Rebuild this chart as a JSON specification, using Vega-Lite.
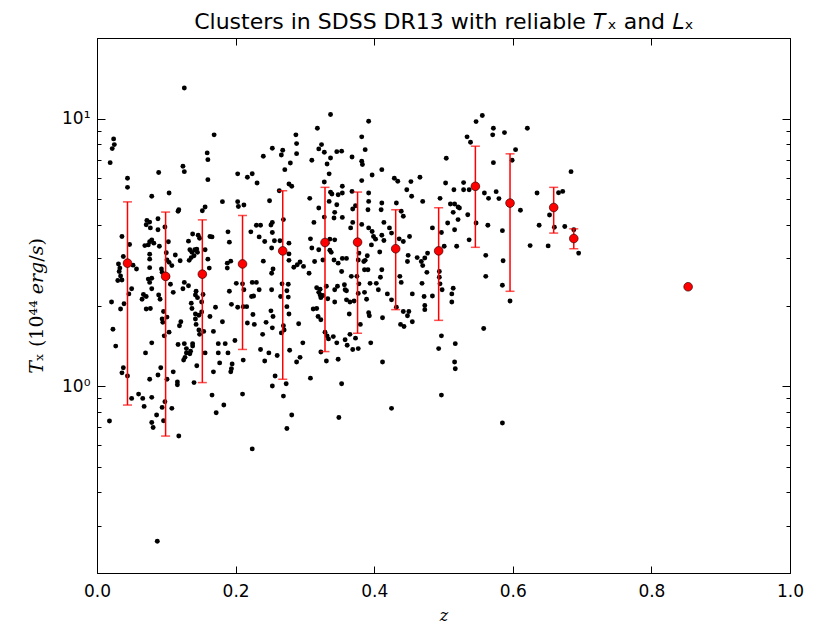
{
"$schema": "https://vega.github.io/schema/vega-lite/v6.json",
"width": 693, "height": 535,
"autosize": {"type": "none"},
"padding": {"left": 97, "top": 38, "right": 32, "bottom": 51},
"background": "white",
"config": {"view": {"stroke": "black", "strokeWidth": 1}},
"datasets": {
"bins": [
{"z":0.044,"T":2.88,"lo":0.849,"hi":4.88},{"z":0.099,"T":2.57,"lo":0.650,"hi":4.47},{"z":0.152,"T":2.62,"lo":1.03,"hi":4.18},{"z":0.210,"T":2.86,"lo":1.37,"hi":4.34},{"z":0.268,"T":3.20,"lo":1.06,"hi":5.37},{"z":0.329,"T":3.44,"lo":1.345,"hi":5.53},{"z":0.376,"T":3.45,"lo":1.575,"hi":5.31},{"z":0.431,"T":3.26,"lo":1.93,"hi":4.56},{"z":0.493,"T":3.20,"lo":1.76,"hi":4.64},{"z":0.546,"T":5.58,"lo":3.30,"hi":7.88},{"z":0.596,"T":4.83,"lo":2.26,"hi":7.38},{"z":0.659,"T":4.65,"lo":3.73,"hi":5.53},{"z":0.688,"T":3.56,"lo":3.26,"hi":3.87},{"z":0.853,"T":2.35,"lo":null,"hi":null}
],
"clusters": [
{"z":0.126,"T":13.0},{"z":0.337,"T":10.35},{"z":0.318,"T":9.20},{"z":0.169,"T":8.69},{"z":0.287,"T":8.69},{"z":0.024,"T":8.39},{"z":0.025,"T":7.99},{"z":0.022,"T":7.72},{"z":0.324,"T":7.99},{"z":0.320,"T":7.70},{"z":0.328,"T":7.48},{"z":0.288,"T":8.06},{"z":0.253,"T":7.74},{"z":0.268,"T":7.61},{"z":0.346,"T":7.52},{"z":0.240,"T":7.23},{"z":0.266,"T":7.31},{"z":0.337,"T":7.12},{"z":0.288,"T":7.39},{"z":0.019,"T":6.84},{"z":0.159,"T":7.44},{"z":0.160,"T":7.02},{"z":0.279,"T":6.82},{"z":0.310,"T":6.98},{"z":0.332,"T":6.76},{"z":0.124,"T":6.63},{"z":0.126,"T":6.33},{"z":0.089,"T":6.28},{"z":0.203,"T":6.21},{"z":0.224,"T":6.22},{"z":0.217,"T":6.03},{"z":0.044,"T":5.98},{"z":0.160,"T":5.91},{"z":0.271,"T":6.44},{"z":0.335,"T":6.21},{"z":0.231,"T":5.74},{"z":0.328,"T":5.79},{"z":0.277,"T":5.69},{"z":0.281,"T":5.58},{"z":0.044,"T":5.53},{"z":0.104,"T":5.27},{"z":0.079,"T":5.12},{"z":0.337,"T":5.30},{"z":0.339,"T":5.22},{"z":0.348,"T":5.19},{"z":0.263,"T":5.37},{"z":0.307,"T":5.03},{"z":0.181,"T":4.89},{"z":0.203,"T":4.89},{"z":0.212,"T":4.75},{"z":0.249,"T":4.93},{"z":0.204,"T":4.69},{"z":0.156,"T":4.67},{"z":0.152,"T":4.52},{"z":0.118,"T":4.56},{"z":0.117,"T":4.50},{"z":0.320,"T":4.63},{"z":0.335,"T":4.90},{"z":0.346,"T":4.76},{"z":0.343,"T":4.46},{"z":0.342,"T":4.25},{"z":0.328,"T":4.28},{"z":0.313,"T":4.09},{"z":0.072,"T":4.16},{"z":0.076,"T":4.10},{"z":0.071,"T":4.01},{"z":0.088,"T":4.22},{"z":0.077,"T":3.90},{"z":0.088,"T":3.84},{"z":0.098,"T":3.93},{"z":0.253,"T":4.09},{"z":0.251,"T":4.00},{"z":0.230,"T":3.99},{"z":0.236,"T":3.99},{"z":0.269,"T":4.19},{"z":0.189,"T":3.77},{"z":0.222,"T":3.77},{"z":0.036,"T":3.62},{"z":0.138,"T":3.70},{"z":0.146,"T":3.66},{"z":0.148,"T":3.57},{"z":0.163,"T":3.62},{"z":0.166,"T":3.61},{"z":0.132,"T":3.48},{"z":0.103,"T":3.46},{"z":0.079,"T":3.52},{"z":0.076,"T":3.46},{"z":0.074,"T":3.37},{"z":0.082,"T":3.42},{"z":0.090,"T":3.33},{"z":0.191,"T":3.45},{"z":0.234,"T":3.61},{"z":0.242,"T":3.47},{"z":0.253,"T":3.75},{"z":0.256,"T":3.49},{"z":0.264,"T":3.49},{"z":0.252,"T":3.28},{"z":0.277,"T":3.42},{"z":0.308,"T":3.55},{"z":0.310,"T":3.28},{"z":0.320,"T":3.23},{"z":0.336,"T":3.54},{"z":0.343,"T":3.52},{"z":0.332,"T":3.42},{"z":0.047,"T":3.38},{"z":0.031,"T":2.86},{"z":0.033,"T":2.76},{"z":0.032,"T":2.68},{"z":0.038,"T":3.05},{"z":0.052,"T":2.83},{"z":0.057,"T":2.74},{"z":0.134,"T":3.23},{"z":0.137,"T":3.16},{"z":0.141,"T":3.23},{"z":0.144,"T":3.25},{"z":0.145,"T":3.16},{"z":0.140,"T":3.07},{"z":0.136,"T":3.02},{"z":0.133,"T":2.95},{"z":0.120,"T":2.94},{"z":0.100,"T":3.15},{"z":0.101,"T":2.96},{"z":0.104,"T":2.90},{"z":0.093,"T":2.74},{"z":0.094,"T":2.66},{"z":0.108,"T":2.82},{"z":0.113,"T":3.09},{"z":0.156,"T":3.23},{"z":0.160,"T":2.98},{"z":0.162,"T":2.76},{"z":0.076,"T":3.11},{"z":0.076,"T":2.98},{"z":0.076,"T":2.77},{"z":0.069,"T":3.35},{"z":0.188,"T":2.88},{"z":0.188,"T":2.76},{"z":0.193,"T":2.93},{"z":0.240,"T":2.93},{"z":0.254,"T":2.74},{"z":0.277,"T":3.12},{"z":0.277,"T":2.95},{"z":0.284,"T":2.78},{"z":0.289,"T":2.84},{"z":0.293,"T":2.91},{"z":0.298,"T":2.80},{"z":0.306,"T":2.64},{"z":0.314,"T":2.92},{"z":0.326,"T":2.96},{"z":0.342,"T":2.96},{"z":0.348,"T":2.88},{"z":0.336,"T":3.22},{"z":0.338,"T":3.16},{"z":0.034,"T":2.58},{"z":0.036,"T":2.49},{"z":0.050,"T":2.31},{"z":0.030,"T":2.48},{"z":0.046,"T":2.21},{"z":0.039,"T":2.03},{"z":0.021,"T":2.06},{"z":0.067,"T":2.20},{"z":0.071,"T":2.16},{"z":0.065,"T":2.11},{"z":0.074,"T":2.51},{"z":0.079,"T":2.53},{"z":0.076,"T":2.44},{"z":0.079,"T":2.31},{"z":0.089,"T":2.19},{"z":0.091,"T":2.11},{"z":0.102,"T":2.56},{"z":0.106,"T":2.40},{"z":0.110,"T":2.24},{"z":0.126,"T":2.44},{"z":0.132,"T":2.37},{"z":0.124,"T":2.31},{"z":0.143,"T":2.26},{"z":0.142,"T":2.19},{"z":0.136,"T":2.04},{"z":0.145,"T":2.14},{"z":0.151,"T":2.06},{"z":0.153,"T":2.20},{"z":0.171,"T":1.97},{"z":0.210,"T":2.41},{"z":0.212,"T":2.29},{"z":0.224,"T":2.44},{"z":0.230,"T":2.44},{"z":0.223,"T":2.16},{"z":0.226,"T":2.17},{"z":0.201,"T":2.42},{"z":0.191,"T":2.26},{"z":0.194,"T":2.02},{"z":0.234,"T":2.29},{"z":0.252,"T":2.29},{"z":0.252,"T":2.64},{"z":0.267,"T":2.41},{"z":0.276,"T":2.40},{"z":0.274,"T":2.27},{"z":0.276,"T":2.15},{"z":0.265,"T":2.16},{"z":0.317,"T":2.33},{"z":0.322,"T":2.30},{"z":0.322,"T":2.19},{"z":0.326,"T":2.18},{"z":0.323,"T":2.14},{"z":0.333,"T":2.12},{"z":0.343,"T":2.29},{"z":0.347,"T":2.36},{"z":0.331,"T":2.36},{"z":0.320,"T":2.24},
{"z":0.023,"T":1.63},{"z":0.027,"T":1.41},{"z":0.096,"T":1.90},{"z":0.094,"T":1.78},{"z":0.095,"T":1.73},{"z":0.101,"T":1.81},{"z":0.104,"T":1.59},{"z":0.097,"T":1.54},{"z":0.079,"T":1.45},{"z":0.070,"T":1.33},{"z":0.076,"T":1.06},{"z":0.079,"T":0.907},{"z":0.088,"T":1.10},{"z":0.092,"T":1.17},{"z":0.101,"T":1.06},{"z":0.110,"T":1.13},{"z":0.116,"T":1.01},{"z":0.116,"T":1.035},{"z":0.117,"T":1.43},{"z":0.126,"T":1.44},{"z":0.119,"T":1.68},{"z":0.121,"T":1.74},{"z":0.142,"T":1.86},{"z":0.142,"T":1.78},{"z":0.147,"T":1.84},{"z":0.151,"T":1.89},{"z":0.143,"T":1.70},{"z":0.147,"T":1.62},{"z":0.148,"T":1.56},{"z":0.154,"T":1.60},{"z":0.138,"T":1.44},{"z":0.135,"T":1.35},{"z":0.134,"T":1.32},{"z":0.129,"T":1.33},{"z":0.127,"T":1.28},{"z":0.125,"T":1.25},{"z":0.129,"T":1.38},{"z":0.138,"T":1.41},{"z":0.156,"T":1.33},{"z":0.144,"T":1.19},{"z":0.140,"T":1.03},{"z":0.163,"T":1.82},{"z":0.168,"T":1.60},{"z":0.181,"T":1.74},{"z":0.175,"T":1.44},{"z":0.175,"T":1.33},{"z":0.177,"T":1.22},{"z":0.185,"T":1.44},{"z":0.189,"T":1.33},{"z":0.195,"T":1.21},{"z":0.194,"T":1.16},{"z":0.193,"T":1.13},{"z":0.199,"T":1.48},{"z":0.168,"T":1.13},{"z":0.166,"T":0.925},{"z":0.172,"T":0.795},{"z":0.183,"T":0.849},{"z":0.203,"T":1.97},{"z":0.211,"T":1.98},{"z":0.216,"T":1.98},{"z":0.217,"T":1.72},{"z":0.225,"T":1.85},{"z":0.227,"T":1.70},{"z":0.211,"T":1.25},{"z":0.210,"T":0.933},{"z":0.224,"T":0.582},{"z":0.236,"T":1.37},{"z":0.239,"T":1.56},{"z":0.244,"T":1.73},{"z":0.248,"T":1.33},{"z":0.251,"T":1.91},{"z":0.254,"T":1.82},{"z":0.253,"T":1.65},{"z":0.242,"T":1.24},{"z":0.257,"T":1.09},{"z":0.253,"T":1.00},{"z":0.260,"T":1.30},{"z":0.266,"T":1.58},{"z":0.269,"T":1.68},{"z":0.270,"T":1.62},{"z":0.274,"T":1.98},{"z":0.277,"T":1.86},{"z":0.278,"T":1.36},{"z":0.291,"T":1.71},{"z":0.297,"T":1.45},{"z":0.293,"T":1.28},{"z":0.288,"T":1.23},{"z":0.308,"T":1.07},{"z":0.273,"T":1.02},{"z":0.269,"T":0.917},{"z":0.281,"T":0.779},{"z":0.274,"T":0.694},{"z":0.312,"T":1.94},{"z":0.317,"T":1.95},{"z":0.319,"T":1.82},{"z":0.323,"T":1.77},{"z":0.329,"T":1.59},{"z":0.332,"T":1.54},{"z":0.334,"T":1.50},{"z":0.341,"T":1.53},{"z":0.346,"T":1.45},{"z":0.323,"T":1.34},{"z":0.331,"T":1.24},{"z":0.348,"T":1.26},{"z":0.349,"T":0.763},{"z":0.018,"T":0.740},{"z":0.036,"T":1.12},{"z":0.038,"T":1.17},{"z":0.044,"T":1.09},{"z":0.050,"T":0.899},{"z":0.060,"T":0.933},{"z":0.066,"T":0.899},{"z":0.068,"T":0.839},{"z":0.079,"T":0.731},{"z":0.081,"T":0.700},{"z":0.086,"T":0.779},{"z":0.094,"T":0.832},{"z":0.096,"T":0.742},{"z":0.108,"T":0.825},{"z":0.118,"T":0.650},{"z":0.098,"T":0.874},{"z":0.087,"T":0.263},{"z":0.034,"T":1.94},{"z":0.071,"T":1.94},{"z":0.077,"T":1.95},{"z":0.137,"T":1.95},{"z":0.343,"T":2.06},
{"z":0.392,"T":9.77},{"z":0.382,"T":8.54},{"z":0.387,"T":7.65},{"z":0.353,"T":7.55},{"z":0.368,"T":7.18},{"z":0.382,"T":6.92},{"z":0.383,"T":6.73},{"z":0.411,"T":6.44},{"z":0.397,"T":6.15},{"z":0.382,"T":5.86},{"z":0.429,"T":5.98},{"z":0.434,"T":5.83},{"z":0.453,"T":5.81},{"z":0.466,"T":6.03},{"z":0.447,"T":5.42},{"z":0.454,"T":5.12},{"z":0.470,"T":4.90},{"z":0.504,"T":7.10},{"z":0.503,"T":5.74},{"z":0.515,"T":5.42},{"z":0.529,"T":5.76},{"z":0.529,"T":5.42},{"z":0.534,"T":8.54},{"z":0.539,"T":8.15},{"z":0.547,"T":9.74},{"z":0.556,"T":10.26},{"z":0.572,"T":9.20},{"z":0.571,"T":8.69},{"z":0.588,"T":8.86},{"z":0.621,"T":9.20},{"z":0.604,"T":7.65},{"z":0.599,"T":6.98},{"z":0.572,"T":6.84},{"z":0.559,"T":5.27},{"z":0.565,"T":5.03},{"z":0.576,"T":5.33},{"z":0.580,"T":5.02},{"z":0.537,"T":5.42},{"z":0.521,"T":4.67},{"z":0.510,"T":4.79},{"z":0.516,"T":4.79},{"z":0.523,"T":4.63},{"z":0.514,"T":4.46},{"z":0.535,"T":4.37},{"z":0.521,"T":4.19},{"z":0.516,"T":3.84},{"z":0.506,"T":4.07},{"z":0.495,"T":5.03},{"z":0.537,"T":3.52},{"z":0.547,"T":4.07},{"z":0.564,"T":3.99},{"z":0.585,"T":3.81},{"z":0.611,"T":4.54},{"z":0.635,"T":5.27},{"z":0.638,"T":3.99},{"z":0.653,"T":4.36},{"z":0.660,"T":3.92},{"z":0.666,"T":5.28},{"z":0.672,"T":5.34},{"z":0.684,"T":6.33},{"z":0.675,"T":3.95},{"z":0.688,"T":3.84},{"z":0.695,"T":3.14},{"z":0.651,"T":3.34},{"z":0.625,"T":3.35},{"z":0.354,"T":5.58},{"z":0.354,"T":5.27},{"z":0.368,"T":5.34},{"z":0.369,"T":4.59},{"z":0.373,"T":4.72},{"z":0.392,"T":5.27},{"z":0.392,"T":4.90},{"z":0.391,"T":4.56},{"z":0.411,"T":4.83},{"z":0.410,"T":4.56},{"z":0.432,"T":4.83},{"z":0.439,"T":4.50},{"z":0.442,"T":4.31},{"z":0.354,"T":4.27},{"z":0.369,"T":4.09},{"z":0.366,"T":3.90},{"z":0.382,"T":4.02},{"z":0.392,"T":3.90},{"z":0.397,"T":3.78},{"z":0.399,"T":3.62},{"z":0.402,"T":3.54},{"z":0.411,"T":3.66},{"z":0.414,"T":3.50},{"z":0.422,"T":3.90},{"z":0.425,"T":3.73},{"z":0.414,"T":4.09},{"z":0.442,"T":3.47},{"z":0.436,"T":3.55},{"z":0.451,"T":3.62},{"z":0.396,"T":3.37},{"z":0.408,"T":3.17},{"z":0.390,"T":3.07},{"z":0.387,"T":2.95},{"z":0.378,"T":3.14},{"z":0.377,"T":2.96},{"z":0.385,"T":2.92},{"z":0.386,"T":2.72},{"z":0.391,"T":2.72},{"z":0.375,"T":2.57},{"z":0.378,"T":2.41},{"z":0.367,"T":2.57},{"z":0.360,"T":3.00},{"z":0.354,"T":3.00},{"z":0.353,"T":2.68},{"z":0.357,"T":2.39},{"z":0.358,"T":2.29},{"z":0.360,"T":2.27},{"z":0.360,"T":2.10},{"z":0.365,"T":2.06},{"z":0.371,"T":2.08},{"z":0.377,"T":2.22},{"z":0.386,"T":2.24},{"z":0.389,"T":2.11},{"z":0.403,"T":2.42},{"z":0.406,"T":2.29},{"z":0.394,"T":2.42},{"z":0.409,"T":2.55},{"z":0.411,"T":2.72},{"z":0.419,"T":2.21},{"z":0.425,"T":2.10},{"z":0.432,"T":1.97},{"z":0.437,"T":2.57},{"z":0.439,"T":2.44},{"z":0.449,"T":3.08},{"z":0.448,"T":2.92},{"z":0.462,"T":3.02},{"z":0.468,"T":2.92},{"z":0.473,"T":3.01},{"z":0.470,"T":2.82},{"z":0.476,"T":2.66},{"z":0.477,"T":3.14},{"z":0.484,"T":3.90},{"z":0.497,"T":3.75},{"z":0.501,"T":3.33},{"z":0.494,"T":2.68},{"z":0.494,"T":2.55},{"z":0.495,"T":2.41},{"z":0.455,"T":2.21},{"z":0.469,"T":2.42},{"z":0.472,"T":2.16},{"z":0.484,"T":2.17},{"z":0.498,"T":2.29},{"z":0.514,"T":2.32},{"z":0.512,"T":2.21},{"z":0.512,"T":2.06},{"z":0.519,"T":3.33},{"z":0.561,"T":3.08},{"z":0.561,"T":2.57},{"z":0.586,"T":2.94},{"z":0.585,"T":2.38},{"z":0.596,"T":2.08},
{"z":0.364,"T":1.86},{"z":0.365,"T":1.56},{"z":0.373,"T":1.51},{"z":0.377,"T":1.38},{"z":0.369,"T":1.37},{"z":0.361,"T":1.42},{"z":0.358,"T":1.49},{"z":0.380,"T":1.70},{"z":0.392,"T":1.88},{"z":0.393,"T":1.83},{"z":0.395,"T":1.45},{"z":0.412,"T":1.80},{"z":0.353,"T":1.02},{"z":0.412,"T":1.23},{"z":0.425,"T":0.825},{"z":0.438,"T":1.70},{"z":0.443,"T":1.67},{"z":0.448,"T":1.83},{"z":0.455,"T":1.74},{"z":0.450,"T":1.90},{"z":0.442,"T":1.90},{"z":0.473,"T":1.93},{"z":0.473,"T":2.00},{"z":0.497,"T":1.54},{"z":0.493,"T":1.38},{"z":0.517,"T":1.44},{"z":0.516,"T":1.23},{"z":0.517,"T":1.16},{"z":0.497,"T":0.925},{"z":0.558,"T":1.64},{"z":0.585,"T":0.727}
]
},
"layer": [
{"layer": [
{"data": {"name": "clusters"},
"mark": {"type": "circle", "size": 24, "color": "black", "opacity": 1},
"encoding": {
"x": {"field": "z", "type": "quantitative", "scale": {"domain": [0, 1], "nice": false, "zero": false},
"axis": {"values": [0, 0.2, 0.4, 0.6, 0.8, 1.0], "format": ".1f", "grid": false, "domain": false, "tickSize": -7, "tickColor": "black", "labelPadding": 17, "labelFont": "DejaVu Sans", "labelFontSize": 17, "labelColor": "black", "labelFlush": false, "labelOverlap": false,
"title": "z", "titleFont": "DejaVu Serif", "titleFontStyle": "italic", "titleFontWeight": "normal", "titleFontSize": 16, "titleColor": "black", "titleX": 346.5, "titleY": 47, "titleBaseline": "alphabetic"}},
"y": {"field": "T", "type": "quantitative", "scale": {"type": "log", "domain": [0.2, 20], "nice": false},
"axis": {"values": [0.2, 0.3, 0.4, 0.5, 0.6, 0.7, 0.8, 0.9, 1, 2, 3, 4, 5, 6, 7, 8, 9, 10, 20], "labelExpr": "datum.value == 1 ? '10⁰' : (datum.value == 10 ? '10¹' : '')", "grid": false, "domain": false, "tickColor": "black",
"tickSize": {"condition": {"test": "datum.value == 1 || datum.value == 10", "value": -8}, "value": -4}, "labelPadding": 15, "labelFont": "DejaVu Sans", "labelFontSize": 17, "labelColor": "black", "labelOverlap": false, "labelFlush": false,
"title": "𝑇ₓ (10⁴⁴ 𝑒𝑟𝑔/𝑠)", "titleFont": "DejaVu Serif", "titleFontStyle": "normal", "titleFontWeight": "normal", "titleFontSize": 19, "titleColor": "black", "titleX": -61, "titleY": 267.5, "titleBaseline": "middle", "titleAlign": "center"}}
}},
{"data": {"name": "bins"},
"transform": [{"filter": "datum.lo != null"}],
"mark": {"type": "errorbar", "color": "#ff0000", "thickness": 1.5, "ticks": {"size": 9, "thickness": 1.5, "color": "#ff0000"}},
"encoding": {
"x": {"field": "z", "type": "quantitative", "title": "z"},
"y": {"field": "lo", "type": "quantitative", "title": "𝑇ₓ (10⁴⁴ 𝑒𝑟𝑔/𝑠)"},
"y2": {"field": "hi"}
}}
]},
{"data": {"name": "bins"},
"mark": {"type": "circle", "size": 75, "fill": "#ff0000", "stroke": "#3a0000", "strokeWidth": 0.7, "opacity": 1},
"encoding": {
"x": {"field": "z", "type": "quantitative", "scale": {"domain": [0, 1], "nice": false, "zero": false},
"axis": {"orient": "top", "values": [0, 0.2, 0.4, 0.6, 0.8, 1.0], "labels": false, "grid": false, "domain": false, "tickSize": -7, "tickColor": "black",
"title": "Clusters in SDSS DR13 with reliable 𝑇ₓ  and 𝐿ₓ", "titleFont": "DejaVu Sans", "titleFontSize": 22, "titleFontWeight": "normal", "titleColor": "black", "titleX": 346.5, "titleY": -10, "titleBaseline": "alphabetic", "titleAlign": "center"}},
"y": {"field": "T", "type": "quantitative", "scale": {"type": "log", "domain": [0.2, 20], "nice": false},
"axis": {"orient": "right", "values": [0.2, 0.3, 0.4, 0.5, 0.6, 0.7, 0.8, 0.9, 1, 2, 3, 4, 5, 6, 7, 8, 9, 10, 20], "labels": false, "grid": false, "domain": false, "tickColor": "black",
"tickSize": {"condition": {"test": "datum.value == 1 || datum.value == 10", "value": -8}, "value": -4}, "title": null}}
}}
],
"resolve": {"scale": {"x": "independent", "y": "independent"}}
}
